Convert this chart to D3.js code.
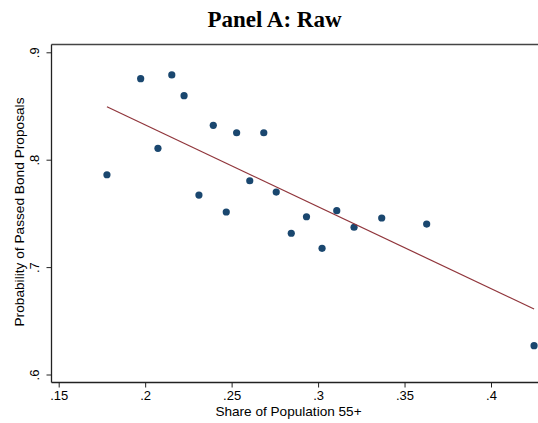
<!DOCTYPE html>
<html>
<head>
<meta charset="utf-8">
<script src="https://cdn.jsdelivr.net/npm/d3@7"></script>
<style>
  html, body { margin: 0; padding: 0; background: #fff; }
  svg { display: block; }
</style>
</head>
<body>
<script>
// Data
const shareX = [0.1779, 0.1974, 0.2154, 0.2225, 0.2074, 0.2394, 0.2529, 0.2686, 0.2605, 0.2311,
                0.2758, 0.2469, 0.2933, 0.2845, 0.3023, 0.3108, 0.3208, 0.3368, 0.3628, 0.4249];
const probY  = [0.7860, 0.8754, 0.8789, 0.8596, 0.8106, 0.8320, 0.8251, 0.8251, 0.7804, 0.7671,
                0.7699, 0.7513, 0.7469, 0.7315, 0.7175, 0.7525, 0.7371, 0.7457, 0.7401, 0.6268];
const fitX = [0.1779, 0.4249];
const fitY = [0.8493, 0.6610];
const xTicks = [0.15, 0.2, 0.25, 0.3, 0.35, 0.4];
const yTicks = [0.6, 0.7, 0.8, 0.9];
const titleText = "Panel A: Raw";
const xTitle = "Share of Population 55+";
const yTitle = "Probability of Passed Bond Proposals";

const W = 538, H = 423;
const plotLeft = 51.5, plotTop = 44.5, plotBottom = 382.5;

const svg = d3.select("body").append("svg").attr("width", W).attr("height", H);
svg.append("rect").attr("width", W).attr("height", H).attr("fill", "#fff");

const x = d3.scaleLinear().domain([0.15, 0.4]).range([58.7, 491]);
const y = d3.scaleLinear().domain([0.6, 0.9]).range([374.5, 52.3]);

const fmt = d => d3.format(".2~f")(d).replace(/^0/, "");

// Title
svg.append("text").attr("x", 274.5).attr("y", 27).attr("text-anchor", "middle")
  .attr("font-family", "'Liberation Serif', 'Times New Roman', serif")
  .attr("font-weight", "bold").attr("font-size", 23).attr("fill", "#000").text(titleText);

// Top frame line
svg.append("line").attr("x1", plotLeft).attr("x2", W).attr("y1", plotTop).attr("y2", plotTop)
  .attr("stroke", "#444").attr("stroke-width", 1.3);

// X axis
const xAxis = d3.axisBottom(x).tickValues(xTicks).tickSize(5).tickPadding(3).tickFormat(fmt);
const gx = svg.append("g").attr("transform", `translate(0,${plotBottom})`).call(xAxis);
gx.select(".domain").attr("d", `M${plotLeft},0H${W}`).attr("stroke", "#222").attr("stroke-width", 1.3);
gx.selectAll(".tick line").attr("stroke", "#222");
gx.selectAll(".tick text").attr("font-family", "'Liberation Sans', Arial, sans-serif")
  .attr("font-size", 13).attr("fill", "#000");

// Y axis
const yAxis = d3.axisLeft(y).tickValues(yTicks).tickSize(5).tickPadding(3).tickFormat(fmt);
const gy = svg.append("g").attr("transform", `translate(${plotLeft},0)`).call(yAxis);
gy.select(".domain").attr("d", `M0,${plotTop}V${plotBottom}`).attr("stroke", "#222").attr("stroke-width", 1.3);
gy.selectAll(".tick line").attr("stroke", "#222");
gy.selectAll(".tick text")
  .attr("font-family", "'Liberation Sans', Arial, sans-serif").attr("font-size", 13).attr("fill", "#000")
  .attr("text-anchor", "middle").attr("dy", null).attr("x", null)
  .attr("transform", "translate(-13,0) rotate(-90)");

// Axis titles
svg.append("text").attr("x", 288.5).attr("y", 415.5).attr("text-anchor", "middle")
  .attr("font-family", "'Liberation Sans', Arial, sans-serif").attr("font-size", 13.6)
  .attr("fill", "#000").text(xTitle);
svg.append("text").attr("transform", "translate(23.5,212) rotate(-90)").attr("text-anchor", "middle")
  .attr("font-family", "'Liberation Sans', Arial, sans-serif").attr("font-size", 13.7)
  .attr("fill", "#000").text(yTitle);

// Points
const pts = shareX.map((v, i) => ({ x: v, y: probY[i] }));
svg.append("g").selectAll("circle").data(pts).join("circle")
  .attr("cx", d => x(d.x)).attr("cy", d => y(d.y)).attr("r", 3.6).attr("fill", "#1a476f");

// Fitted line
const fit = fitX.map((v, i) => ({ x: v, y: fitY[i] }));
svg.append("path").datum(fit)
  .attr("d", d3.line().x(d => x(d.x)).y(d => y(d.y)))
  .attr("fill", "none").attr("stroke", "#90353b").attr("stroke-width", 1.2);
</script>
</body>
</html>
